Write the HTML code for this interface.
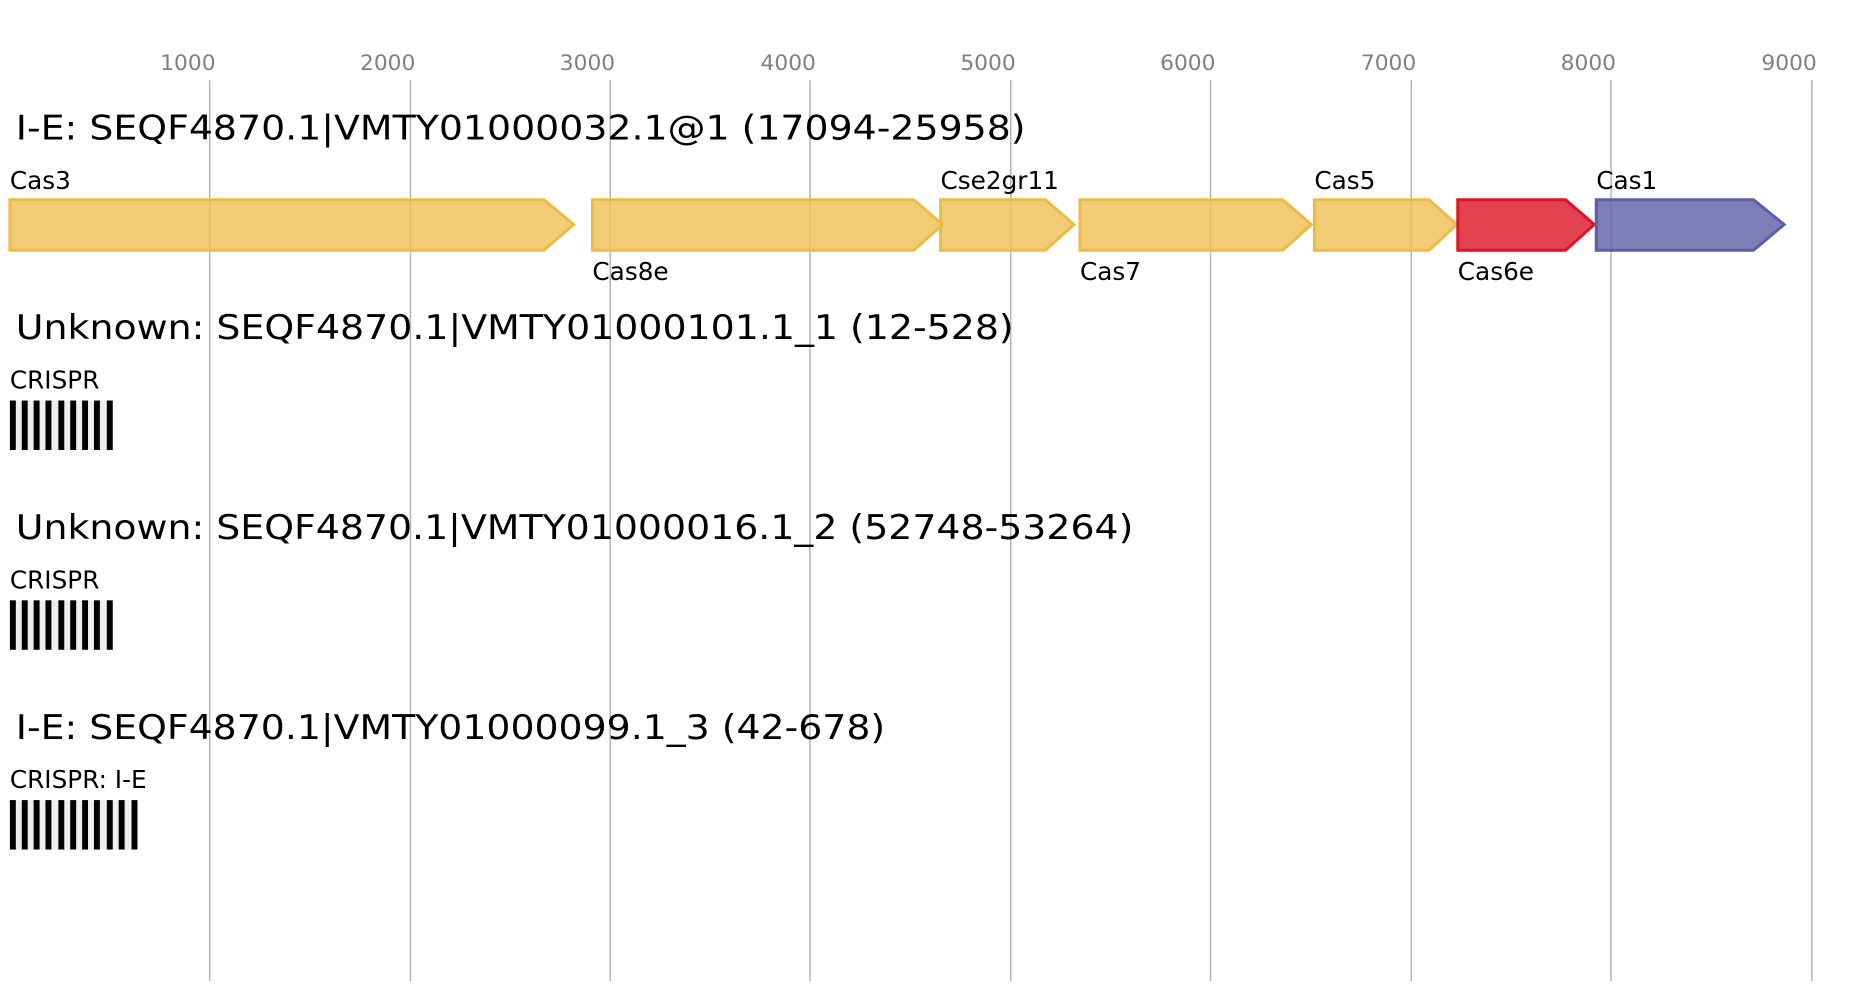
<!DOCTYPE html>
<html><head><meta charset="utf-8"><style>
html,body{margin:0;padding:0;background:#fff;}
svg{display:block;font-family:"DejaVu Sans","Liberation Sans",sans-serif;}
</style></head><body>
<svg width="1873" height="1000" viewBox="0 0 1873 1000" xmlns="http://www.w3.org/2000/svg">
<g transform="scale(0.989)">
<g stroke="#b4b4b4" stroke-width="1.5">
<line x1="212" y1="81" x2="212" y2="992"/><line x1="415" y1="81" x2="415" y2="992"/>
<line x1="617" y1="81" x2="617" y2="992"/><line x1="819" y1="81" x2="819" y2="992"/>
<line x1="1022" y1="81" x2="1022" y2="992"/><line x1="1224" y1="81" x2="1224" y2="992"/>
<line x1="1427" y1="81" x2="1427" y2="992"/><line x1="1629" y1="81" x2="1629" y2="992"/>
<line x1="1832" y1="81" x2="1832" y2="992"/>
</g>
<g fill="#808080" font-size="22" text-anchor="middle">
<text x="190" y="71">1000</text><text x="392" y="71">2000</text><text x="594" y="71">3000</text>
<text x="797" y="71">4000</text><text x="999" y="71">5000</text><text x="1201" y="71">6000</text>
<text x="1404" y="71">7000</text><text x="1606" y="71">8000</text><text x="1809" y="71">9000</text>
</g>
<g fill="#000" font-size="34">
<text x="16" y="141" textLength="1021" lengthAdjust="spacingAndGlyphs">I-E: SEQF4870.1|VMTY01000032.1@1 (17094-25958)</text>
<text x="16" y="343" textLength="1009" lengthAdjust="spacingAndGlyphs">Unknown: SEQF4870.1|VMTY01000101.1_1 (12-528)</text>
<text x="16" y="545" textLength="1130" lengthAdjust="spacingAndGlyphs">Unknown: SEQF4870.1|VMTY01000016.1_2 (52748-53264)</text>
<text x="16" y="747" textLength="879" lengthAdjust="spacingAndGlyphs">I-E: SEQF4870.1|VMTY01000099.1_3 (42-678)</text>
</g>
<g stroke-width="3" fill-opacity="0.8">
<polygon points="10,202 550,202 580,227 550,253 10,253" fill="#eebf51" stroke="#ecbb46"/>
<polygon points="599,202 924,202 953,227 924,253 599,253" fill="#eebf51" stroke="#ecbb46"/>
<polygon points="951,202 1057,202 1086,227 1057,253 951,253" fill="#eebf51" stroke="#ecbb46"/>
<polygon points="1092,202 1297,202 1326,227 1297,253 1092,253" fill="#eebf51" stroke="#ecbb46"/>
<polygon points="1329,202 1445,202 1473,227 1445,253 1329,253" fill="#eebf51" stroke="#ecbb46"/>
<polygon points="1474,202 1583,202 1612,227 1583,253 1474,253" fill="#dc1424" stroke="#dc1424"/>
<polygon points="1614,202 1773,202 1804,227 1773,253 1614,253" fill="#5a5fa3" stroke="#5a5fa8"/>
</g>
<g fill="#000" font-size="25">
<text x="10" y="191">Cas3</text><text x="951" y="191">Cse2gr11</text>
<text x="1329" y="191">Cas5</text><text x="1614" y="191">Cas1</text>
<text x="599" y="283">Cas8e</text><text x="1092" y="283">Cas7</text><text x="1474" y="283">Cas6e</text>
<text x="10" y="393">CRISPR</text>
<text x="10" y="595">CRISPR</text>
<text x="10" y="797">CRISPR: I-E</text>
</g>
<rect x="10" y="405" width="104" height="50" fill="#eee"/>
<rect x="10" y="607" width="104" height="50" fill="#eee"/>
<rect x="10" y="809" width="129" height="50" fill="#eee"/>
<g fill="#000">
<rect x="10" y="405" width="6" height="50"/><rect x="22" y="405" width="6" height="50"/><rect x="34" y="405" width="6" height="50"/>
<rect x="46" y="405" width="6" height="50"/><rect x="59" y="405" width="6" height="50"/><rect x="71" y="405" width="6" height="50"/>
<rect x="83" y="405" width="6" height="50"/><rect x="95" y="405" width="6" height="50"/><rect x="108" y="405" width="6" height="50"/>
<rect x="10" y="607" width="6" height="50"/><rect x="22" y="607" width="6" height="50"/><rect x="34" y="607" width="6" height="50"/>
<rect x="46" y="607" width="6" height="50"/><rect x="59" y="607" width="6" height="50"/><rect x="71" y="607" width="6" height="50"/>
<rect x="83" y="607" width="6" height="50"/><rect x="95" y="607" width="6" height="50"/><rect x="108" y="607" width="6" height="50"/>
<rect x="10" y="809" width="6" height="50"/><rect x="22" y="809" width="6" height="50"/><rect x="34" y="809" width="6" height="50"/>
<rect x="46" y="809" width="6" height="50"/><rect x="59" y="809" width="6" height="50"/><rect x="71" y="809" width="6" height="50"/>
<rect x="83" y="809" width="6" height="50"/><rect x="95" y="809" width="6" height="50"/><rect x="108" y="809" width="6" height="50"/>
<rect x="120" y="809" width="6" height="50"/><rect x="133" y="809" width="6" height="50"/>
</g>
</g>
</svg>
</body></html>
